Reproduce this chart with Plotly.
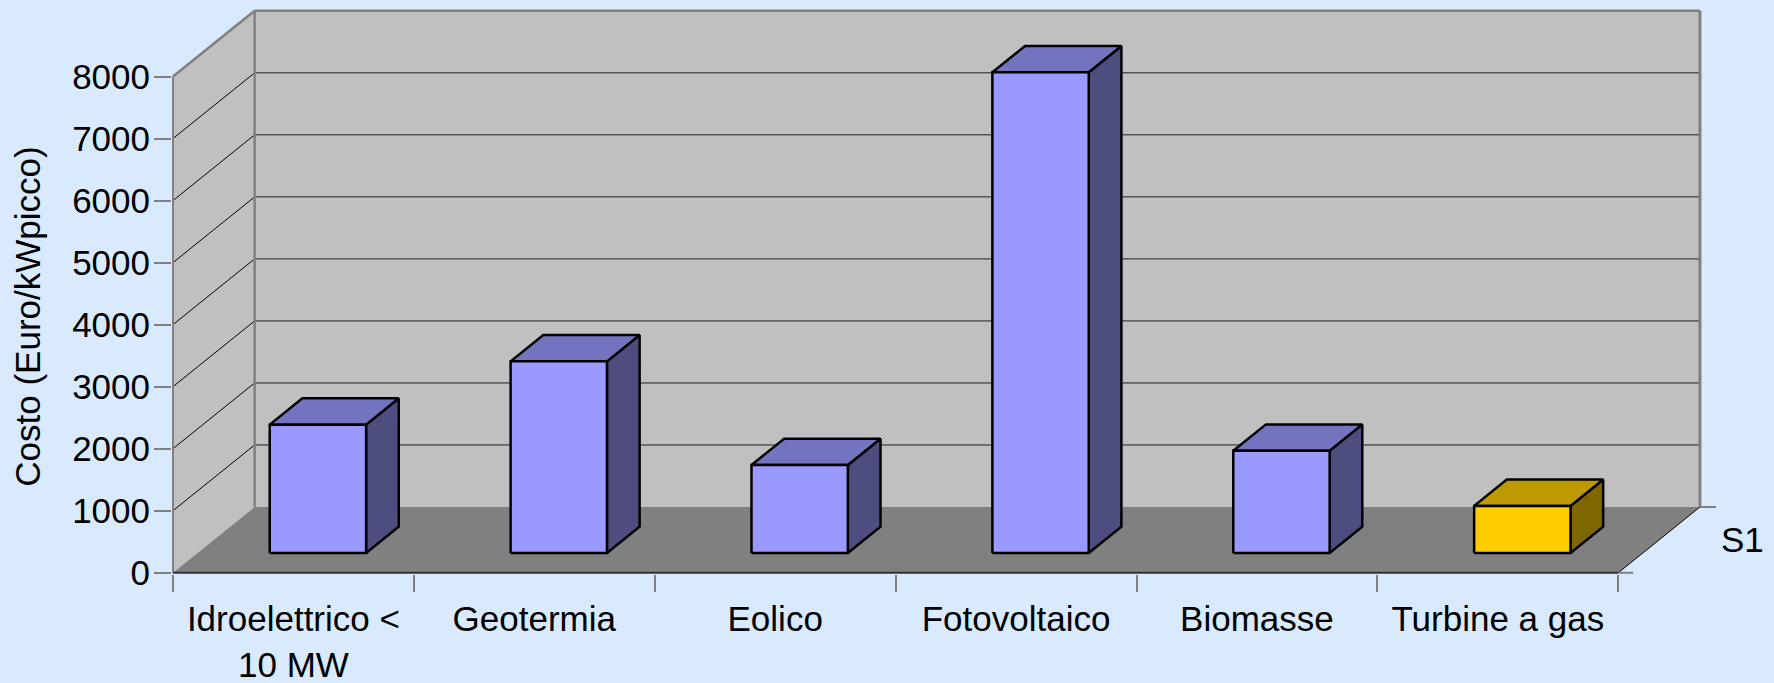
import plotly.graph_objects as go

# ---- data -------------------------------------------------------------
categories = [
    "Idroelettrico &lt;<br>10 MW",
    "Geotermia",
    "Eolico",
    "Fotovoltaico",
    "Biomasse",
    "Turbine a gas",
]
costs = [2070, 3090, 1420, 7750, 1650, 760]  # Euro/kWpicco
series_name = "S1"
y_tick_values = [0, 1000, 2000, 3000, 4000, 5000, 6000, 7000, 8000]
y_title = "Costo (Euro/kWpicco)"

# ---- styling ----------------------------------------------------------
FONT = "Liberation Sans, Arial, sans-serif"
FONT_SIZE = 35
BG = "#D9EAFE"
WALL = "#C0C0C0"
FLOOR = "#808080"
EDGE = "#808080"
BLUE = {"front": "#9999FF", "top": "#7373BF", "side": "#4D4D80"}
GOLD = {"front": "#FFCC00", "top": "#BF9900", "side": "#806600"}
bar_styles = [BLUE, BLUE, BLUE, BLUE, BLUE, GOLD]

# ---- oblique projection ------------------------------------------------
DX = 0.339      # x shift for full depth (category units)
DY = 1060.0     # y shift for full depth (value units)
Y_TOP = y_tick_values[-1]
BAR_W = 0.4
D0, D1 = 0.3, 0.7
N = len(categories)


def proj(x, v, d):
    return x + d * DX, v + d * DY


def face(points, fill, line_color="black", line_width=2.5):
    pts = [proj(*p) for p in points]
    xs = [p[0] for p in pts] + [pts[0][0]]
    ys = [p[1] for p in pts] + [pts[0][1]]
    return go.Scatter(
        x=xs, y=ys, mode="lines", fill="toself", fillcolor=fill,
        line=dict(color=line_color, width=line_width),
        hoverinfo="skip", showlegend=False,
    )


def segment(p, q, color, width):
    a, b = proj(*p), proj(*q)
    return go.Scatter(
        x=[a[0], b[0]], y=[a[1], b[1]], mode="lines",
        line=dict(color=color, width=width),
        hoverinfo="skip", showlegend=False,
    )


fig = go.Figure()

# walls and floor
fig.add_trace(face([(0, 0, 0), (0, Y_TOP, 0), (0, Y_TOP, 1), (0, 0, 1)], WALL, WALL, 0))
fig.add_trace(face([(0, 0, 1), (N, 0, 1), (N, Y_TOP, 1), (0, Y_TOP, 1)], WALL, WALL, 0))
fig.add_trace(face([(0, 0, 0), (N, 0, 0), (N, 0, 1), (0, 0, 1)], FLOOR, FLOOR, 0))

# gridlines on side wall and back wall
for v in y_tick_values[1:-1]:
    fig.add_trace(segment((0, v, 0), (0, v, 1), "black", 1))
    fig.add_trace(segment((0, v, 1), (N, v, 1), "#202020", 1))

# wall edges
fig.add_trace(segment((0, 0, 1), (0, Y_TOP, 1), EDGE, 2.5))
fig.add_trace(segment((0, Y_TOP, 1), (N, Y_TOP, 1), EDGE, 2.5))
fig.add_trace(segment((N, 0, 1), (N, Y_TOP, 1), EDGE, 3))
fig.add_trace(segment((0, Y_TOP, 0), (0, Y_TOP, 1), EDGE, 2.5))
fig.add_trace(segment((0, 0, 0), (0, Y_TOP, 0), EDGE, 2))
fig.add_trace(segment((0, 0, 0), (N, 0, 0), "#303030", 2))
fig.add_trace(segment((N, 0, 0), (N, 0, 1), "black", 1))
# depth-axis ticks
fig.add_trace(segment((N, 0, 0), (N + 0.062, 0, 0), EDGE, 2))
fig.add_trace(segment((N, 0, 1), (N + 0.066, 0, 1), EDGE, 2))

# bars
for i, (v, st) in enumerate(zip(costs, bar_styles)):
    xl, xr = i + 0.5 - BAR_W / 2, i + 0.5 + BAR_W / 2
    fig.add_trace(face([(xr, 0, D0), (xr, v, D0), (xr, v, D1), (xr, 0, D1)], st["side"]))
    fig.add_trace(face([(xl, v, D0), (xr, v, D0), (xr, v, D1), (xl, v, D1)], st["top"]))
    fig.add_trace(face([(xl, 0, D0), (xr, 0, D0), (xr, v, D0), (xl, v, D0)], st["front"]))

# ---- page geometry ----------------------------------------------------
W, H = 1774, 683
PX_CAT = 240.9
PX_VAL = 0.062
X0_PX, Y0_PX = 172.7, 572.7
XMIN, XMAX = -0.004, N + DX + 0.075
YMIN, YMAX = -20, Y_TOP + DY + 45

m_l = X0_PX + XMIN * PX_CAT
m_r = W - (X0_PX + XMAX * PX_CAT)
m_b = H - (Y0_PX - YMIN * PX_VAL)
m_t = Y0_PX - YMAX * PX_VAL
plot_h = H - m_t - m_b

fig.add_annotation(
    text=y_title, textangle=-90, xref="paper", yref="paper",
    x=0, xshift=27 - m_l, xanchor="center",
    y=(H - m_b - 316.5) / plot_h, yanchor="middle",
    showarrow=False, font=dict(family=FONT, size=FONT_SIZE, color="black"),
)
sx, sy = proj(N, 0, 0.5)
fig.add_annotation(
    text=series_name, x=sx, y=sy, xanchor="left", yanchor="middle",
    xshift=60, showarrow=False,
    font=dict(family=FONT, size=FONT_SIZE, color="black"),
)

fig.update_layout(
    width=W, height=H,
    margin=dict(l=m_l, r=m_r, t=m_t, b=m_b, pad=0, autoexpand=False),
    paper_bgcolor=BG, plot_bgcolor=BG,
    showlegend=False,
    font=dict(family=FONT, size=FONT_SIZE, color="black"),
    xaxis=dict(
        range=[XMIN, XMAX], showgrid=False, zeroline=False, showline=False,
        automargin=False,
        tickmode="array", tickvals=[i + 0.5 for i in range(N)], ticktext=categories,
        ticks="", ticklabelstandoff=21,
        minor=dict(tickmode="array", tickvals=list(range(N + 1)), ticks="outside",
                   ticklen=17, tickwidth=2, tickcolor=EDGE, showgrid=False),
    ),
    yaxis=dict(
        range=[YMIN, YMAX], showgrid=False, zeroline=False, showline=False,
        automargin=False,
        tickmode="array", tickvals=y_tick_values,
        ticks="outside", ticklen=17, tickwidth=2, tickcolor=EDGE,
        ticklabelstandoff=-3,
    ),
)

fig.write_html("out.html")
